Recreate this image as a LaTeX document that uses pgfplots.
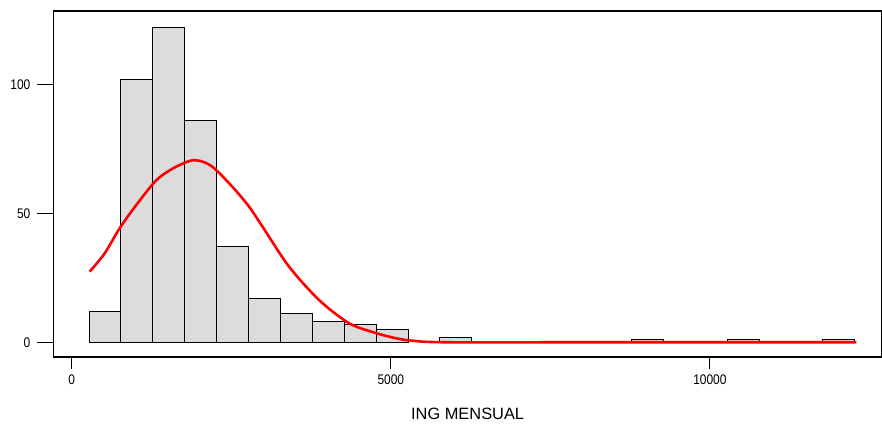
\documentclass[border=0pt]{standalone}
\usepackage{fontspec}
\setmainfont{Liberation Sans}
\newfontfamily\condfont[FakeStretch=0.86]{Liberation Sans}
\usepackage{pgfplots}
\pgfplotsset{compat=1.18}
\definecolor{barfill}{HTML}{DCDCDC}
\begin{document}
\begin{tikzpicture}
\begin{axis}[name=ax, scale only axis, width=830bp, height=347bp,
  xmin=-281, xmax=12688, ymin=-5.7, ymax=128.5,
  axis line style={line width=1.2bp, black},
  xtick={0,5000,10000}, ytick={0,50,100},
  xtick pos=bottom, ytick pos=left, tick align=outside,
  major tick length=12bp, tick style={line width=1.2bp, black},
  extra y ticks={0,50,100}, extra y tick labels={},
  extra y tick style={major tick style={xshift=-5bp}},
  scaled x ticks=false,
  /pgf/number format/assume math mode=true,
  /pgf/number format/1000 sep={},
  xticklabel style={font=\condfont\fontsize{14}{14}\selectfont, yshift=-2.5bp},
  yticklabel style={font=\condfont\fontsize{14}{14}\selectfont, xshift=-8bp},
  xlabel={ING MENSUAL},
  xlabel style={at={(axis description cs:0.5,0)}, anchor=base, yshift=-63bp, font=\fontsize{16.5}{16.5}\selectfont},
  clip=false]
\addplot[ybar, bar width=500, bar shift=0pt, fill=barfill, draw=black, line width=1bp]
  coordinates {
  (520,12) (1020,102) (1520,122) (2020,86) (2520,37) (3020,17) (3520,11)
  (4020,8) (4520,7) (5020,5) (6020,2) (9020,1) (10520,1) (12020,1)
  };
\addplot[red, line width=2.6bp, smooth, no markers]
  coordinates {
  (281,27.4) (516,34.5) (750,44.2) (1010,53.2) (1323,62.8) (1583,67.4)
  (1844,70.3) (2000,70.4) (2208,68.0) (2521,60.2) (2781,52.5) (2990,44.8)
  (3406,29.3) (3875,16.4) (4344,7.4) (4761,3.6) (5073,1.6) (5333,0.6)
  (5854,0) (8000,0) (10000,0) (12297,0)
  };
\end{axis}
\path[use as bounding box] ([xshift=-54bp,yshift=-66bp]ax.south west) rectangle ([xshift=-2bp,yshift=11bp]ax.north east);
\end{tikzpicture}
\end{document}
